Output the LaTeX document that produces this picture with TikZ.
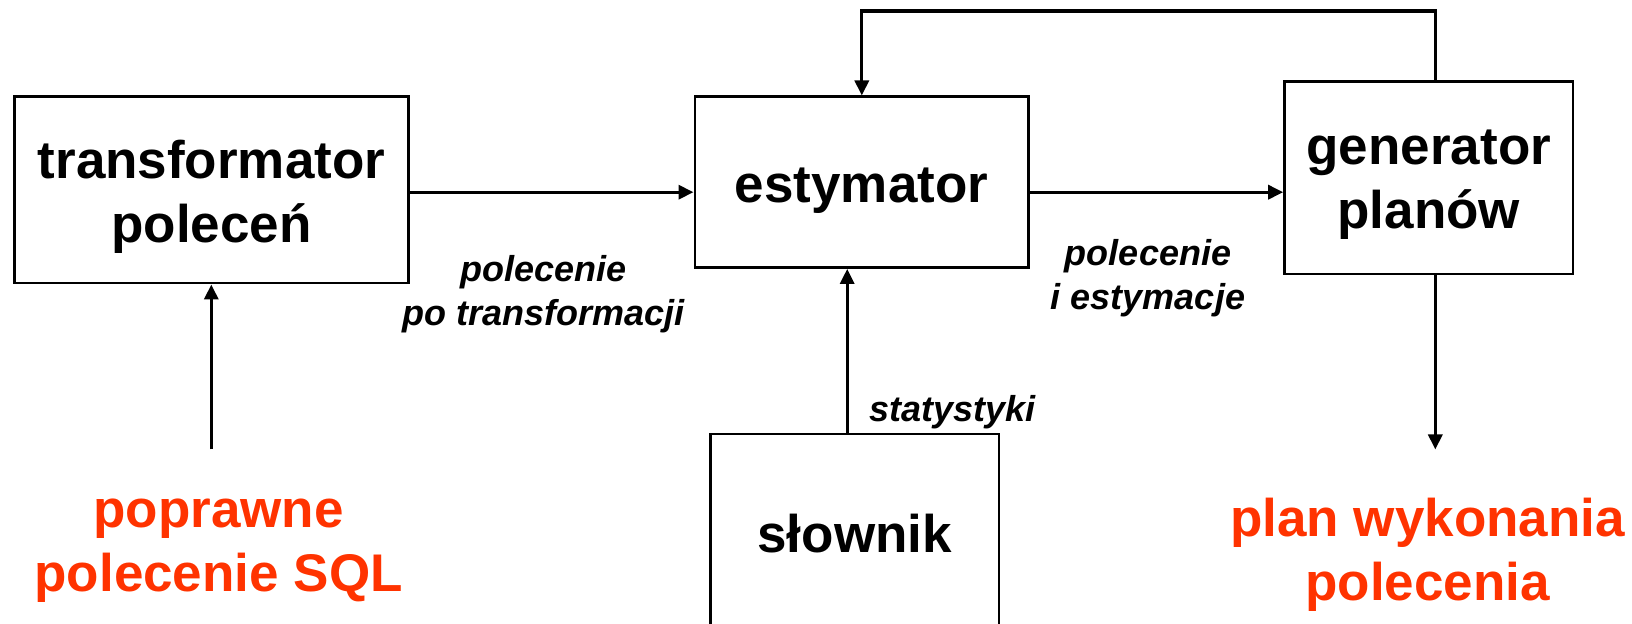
\documentclass[tikz,border=0pt]{standalone}
\usepackage{fontspec}
\setmainfont{Liberation Sans}
\usetikzlibrary{arrows.meta}
\definecolor{accent}{RGB}{255,51,0}
\begin{document}
\begin{tikzpicture}[x=0.5pt,y=-0.5pt,
  boxn/.style={draw=black,line width=1.2pt,inner sep=0pt},
  boxt/.style={align=center,inner sep=0pt,
    font=\fontsize{26.5}{32}\selectfont\bfseries},
  lbl/.style={align=center,inner sep=0pt,font=\fontsize{18}{22.3}\selectfont\bfseries\itshape},
  outl/.style={align=center,inner sep=0pt,text=accent,font=\fontsize{26.5}{32}\selectfont\bfseries},
  arr/.style={line width=1.6pt,-{Triangle[length=7.5pt,width=7pt]}}]
\useasboundingbox (0,0) rectangle (1632,624);
\node[boxn,minimum width=197pt,minimum height=93.3pt] (T) at (211.5,190) {};
\node[boxn,minimum width=166.8pt,minimum height=85.5pt] (E) at (861.5,182.2) {};
\node[boxn,minimum width=144.4pt,minimum height=96.1pt] (G) at (1428.8,177.7) {};
\node[boxn,minimum width=144.4pt,minimum height=103pt] (S) at (854.7,536.8) {};
\node[boxt] (Tt) at (211.5,197) {transformator\\polece\'n};
\node[boxt] (Et) at (861.5,191) {estymator};
\node[boxt] (Gt) at (1428.8,185) {generator\\plan\'ow};
\node[boxt] (St) at (854.7,534) {s\l{}ownik};
\coordinate (yA) at (0,192.2);
\coordinate (xT) at (211.3,0);
\coordinate (xS) at (847.2,0);
\coordinate (xG) at (1435.3,0);
\coordinate (xE) at (861.8,0);
\coordinate (top) at (0,11);
\coordinate (bot) at (0,449.5);
\draw[arr] (T.east |- yA) -- (E.west |- yA);
\draw[arr] (E.east |- yA) -- (G.west |- yA);
\draw[arr] (xS |- S.north) -- (xS |- E.south);
\draw[arr] (xG |- G.north) -- (xG |- top) -| (xE |- E.north);
\draw[arr] (xG |- G.south) -- (xG |- bot);
\draw[arr] (xT |- bot) -- (xT |- T.south);
\node[lbl] (L1) at (543.8,294) {polecenie\\po transformacji};
\node[lbl] (L2) at (1148,278) {polecenie\\i estymacje};
\node[lbl] (L3) at (952.3,412) {statystyki};
\node[outl] (O1) at (218.6,551) {poprawne\\polecenie SQL};
\node[outl] (O2) at (1427.5,555) {plan wykonania\\polecenia};
\end{tikzpicture}
\end{document}
